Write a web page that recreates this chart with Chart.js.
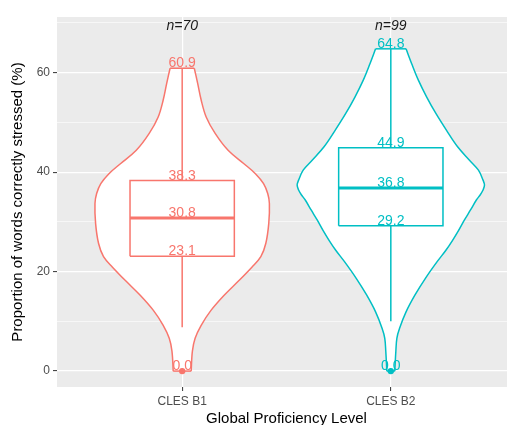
<!DOCTYPE html>
<html>
<head>
<meta charset="utf-8">
<script src="https://cdn.jsdelivr.net/npm/chart.js@4"></script>
<style>
  html, body { margin: 0; padding: 0; background: #fff; overflow: hidden; }
  #wrap { width: 507px; height: 425px; overflow: hidden; }
</style>
</head>
<body>
<div id="wrap"><canvas id="violin" width="520" height="425"></canvas></div>
<script>
// datos
const categories = ["CLES B1", "CLES B2"];
const sampleSizes = [70, 99];
const maxima = [60.9, 64.8];
const upperQuartiles = [38.3, 44.9];
const medians = [30.8, 36.8];
const lowerQuartiles = [23.1, 29.2];
const lowerWhiskers = [8.8, 10.0];
const minima = [0.0, 0.0];
const outliers = [[0.0], [0.0]];

// contorno del violin: valor y semi-ancho (unidades del eje x)
const b1DensityY = [60.9, 57.9, 54.5, 51.1, 47.8, 44.4, 41.7, 39.7, 37.7, 35.7, 33.7, 29.7, 25.7, 23.0, 20.9, 18.2, 15.2, 12.2, 9.2, 6.6, 4.0, 0];
const b1DensityWidth = [0.058, 0.074, 0.091, 0.115, 0.158, 0.220, 0.296, 0.351, 0.390, 0.410, 0.418, 0.415, 0.401, 0.377, 0.334, 0.272, 0.200, 0.138, 0.091, 0.062, 0.049, 0.043];
const b2DensityY = [64.8, 61.8, 58.5, 55.1, 51.8, 48.4, 45.1, 42.4, 40.4, 38.4, 37.4, 36.4, 35.4, 34.4, 32.4, 30.4, 28.3, 26.3, 24.3, 22.0, 18.6, 15.3, 11.9, 8.6, 6.6, 3.9, 0];
const b2DensityWidth = [0.073, 0.100, 0.132, 0.172, 0.216, 0.267, 0.320, 0.377, 0.420, 0.442, 0.449, 0.442, 0.428, 0.410, 0.382, 0.353, 0.325, 0.296, 0.264, 0.222, 0.165, 0.116, 0.073, 0.042, 0.029, 0.024, 0.019];

const yTicks = [0, 10, 20, 30, 40, 50, 60, 70];

const colors = ["#F8766D", "#00BFC4"];
const densities = [[b1DensityY, b1DensityWidth], [b2DensityY, b2DensityWidth]];
const boxHalf = 0.25;

function side(ys, ws, c, dir) {
  return ys.map((y, i) => ({ x: c + dir * ws[i], y: y }));
}

const datasets = [];
categories.forEach((cat, i) => {
  const c = i + 1;
  const col = colors[i];
  const ys = densities[i][0], ws = densities[i][1];
  const left = side(ys, ws, c, -1);
  const right = side(ys, ws, c, 1);
  const n = ys.length;
  const base = { showLine: true, pointRadius: 0, borderColor: col, borderWidth: 1.5, fill: false, tension: 0 };

  // relleno blanco del violin
  datasets.push({
    data: left.concat(right.slice().reverse(), [left[0]]),
    showLine: true, pointRadius: 0, borderWidth: 0, borderColor: "rgba(0,0,0,0)",
    backgroundColor: "#ffffff", fill: "shape", tension: 0, order: 12
  });
  // contorno
  datasets.push(Object.assign({}, base, { data: left, tension: 0.35, order: 10 }));
  datasets.push(Object.assign({}, base, { data: right, tension: 0.35, order: 10 }));
  datasets.push(Object.assign({}, base, { data: [left[0], right[0]], order: 10 }));
  datasets.push(Object.assign({}, base, { data: [left[n - 1], right[n - 1]], order: 10 }));

  // caja
  datasets.push(Object.assign({}, base, {
    data: [{ x: c - boxHalf, y: lowerQuartiles[i] }, { x: c + boxHalf, y: lowerQuartiles[i] },
           { x: c + boxHalf, y: upperQuartiles[i] }, { x: c - boxHalf, y: upperQuartiles[i] },
           { x: c - boxHalf, y: lowerQuartiles[i] }],
    backgroundColor: "#ffffff", fill: "shape", order: 5
  }));
  datasets.push(Object.assign({}, base, {
    data: [{ x: c, y: upperQuartiles[i] }, { x: c, y: maxima[i] }], order: 4
  }));
  datasets.push(Object.assign({}, base, {
    data: [{ x: c, y: lowerQuartiles[i] }, { x: c, y: lowerWhiskers[i] }], order: 4
  }));
  datasets.push(Object.assign({}, base, {
    data: [{ x: c - boxHalf, y: medians[i] }, { x: c + boxHalf, y: medians[i] }],
    borderWidth: 3, order: 3
  }));
  datasets.push({
    data: outliers[i].map(v => ({ x: c, y: v })),
    showLine: false, pointRadius: 3.2, pointBackgroundColor: col, pointBorderWidth: 0, order: 2
  });
});

const panelBg = {
  id: "panelBg",
  beforeDraw(chart) {
    const { ctx, chartArea: a } = chart;
    ctx.save();
    ctx.fillStyle = "#EBEBEB";
    ctx.fillRect(a.left, a.top, a.right - a.left, a.bottom - a.top);
    ctx.restore();
  }
};

const statLabels = {
  id: "statLabels",
  afterDatasetsDraw(chart) {
    const { ctx } = chart;
    const xs = chart.scales.x, ys = chart.scales.y;
    ctx.save();
    ctx.textAlign = "center";
    ctx.textBaseline = "alphabetic";
    categories.forEach((cat, i) => {
      const px = xs.getPixelForValue(i + 1);
      ctx.fillStyle = colors[i];
      ctx.font = "14px 'Liberation Sans', Arial, sans-serif";
      [maxima[i], upperQuartiles[i], medians[i], lowerQuartiles[i], minima[i]].forEach(v => {
        ctx.fillText(v.toFixed(1), px, ys.getPixelForValue(v) - 1);
      });
      ctx.fillStyle = "#1a1a1a";
      ctx.font = "italic 14px 'Liberation Sans', Arial, sans-serif";
      ctx.fillText("n=" + sampleSizes[i], px, ys.getPixelForValue(68.5));
    });
    ctx.restore();
  }
};

new Chart(document.getElementById("violin"), {
  type: "scatter",
  data: { datasets: datasets },
  options: {
    responsive: false,
    animation: false,
    devicePixelRatio: 1,
    layout: { padding: { top: 17, right: 4, left: 0, bottom: 0 } },
    plugins: { legend: { display: false }, tooltip: { enabled: false } },
    scales: {
      x: {
        type: "linear", min: 0.4, max: 2.6,
        afterBuildTicks: s => { s.ticks = categories.map((c, i) => ({ value: i + 1 })); },
        afterFit: s => { s.height = 38; },
        border: { display: false },
        grid: { color: "#ffffff", lineWidth: 1.2, tickColor: "#333333", tickLength: 4, tickWidth: 1 },
        ticks: {
          padding: 3, color: "#4D4D4D",
          font: { family: "'Liberation Sans', Arial, sans-serif", size: 12 },
          callback: v => categories[v - 1]
        },
        title: {
          display: true, text: "Global Proficiency Level", color: "#000000",
          font: { family: "'Liberation Sans', Arial, sans-serif", size: 15, lineHeight: 0.85 },
          padding: { top: 0, bottom: 0 }
        }
      },
      y: {
        min: -3.2, max: 71.2,
        afterBuildTicks: s => { s.ticks = yTicks.map(v => ({ value: v })); },
        afterFit: s => { s.width = 57; },
        border: { display: false },
        grid: {
          color: "#ffffff",
          lineWidth: c => (c.tick && c.tick.value % 20 === 0) ? 1.2 : 0.6,
          tickColor: c => (c.tick && c.tick.value % 20 === 0) ? "#333333" : "rgba(0,0,0,0)",
          tickLength: 4, tickWidth: 1
        },
        ticks: {
          padding: 3, color: "#4D4D4D",
          font: { family: "'Liberation Sans', Arial, sans-serif", size: 12 },
          callback: v => (v % 20 === 0 ? v : "")
        },
        title: {
          display: true, text: "Proportion of words correctly stressed (%)", color: "#000000",
          font: { family: "'Liberation Sans', Arial, sans-serif", size: 15, lineHeight: 1.2 },
          padding: { top: 9, bottom: 0 }
        }
      }
    }
  },
  plugins: [panelBg, statLabels]
});
</script>
</body>
</html>
